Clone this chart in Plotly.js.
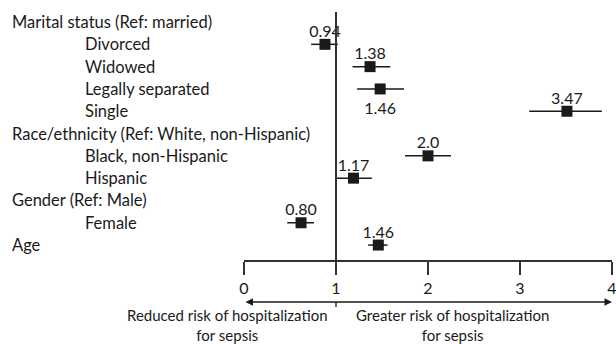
<!DOCTYPE html>
<html>
<head>
<meta charset="utf-8">
<script src="https://cdn.plot.ly/plotly-3.0.1.min.js"></script>
<style>
html,body{margin:0;padding:0;background:#fff;}
#chart{width:616px;height:344px;}
</style>
</head>
<body>
<div id="chart"></div>
<script>
// ---- data ----
const rowLabels = ['Marital status (Ref: married)','Divorced','Widowed','Legally separated','Single',
  'Race/ethnicity (Ref: White, non-Hispanic)','Black, non-Hispanic','Hispanic',
  'Gender (Ref: Male)','Female','Age'];
const rowIndent = [0,1,1,1,1,0,1,1,0,1,0];
const pointRows = ['Divorced','Widowed','Legally separated','Single','Black, non-Hispanic','Hispanic','Female','Age'];
const oddsRatio = [0.88,1.37,1.48,3.51,2.0,1.19,0.62,1.46];
const ciLow     = [0.73,1.18,1.23,3.10,1.75,1.01,0.47,1.35];
const ciHigh    = [1.02,1.59,1.74,3.89,2.25,1.39,0.76,1.56];
const orLabels  = ['0.94','1.38','1.46','3.47','2.0','1.17','0.80','1.46'];
const labelBelow = ['Legally separated'];
const xTicks = [0,1,2,3,4];
const leftNote = 'Reduced risk of hospitalization<br>for sepsis';
const rightNote = 'Greater risk of hospitalization<br>for sepsis';

// ---- layout constants ----
const W = 616, H = 344, ML = 244, MR = 4, MT = 12, MB = 84;
const PW = W - ML - MR, PH = H - MT - MB;
const FONT = 'Lato, "Open Sans", sans-serif';
const INK = '#1a1a1a';
const pxToPaperX = px => (px - ML) / PW;
const pxToPaperY = py => (H - MB - py) / PH;

const yIdx = pointRows.map(r => rowLabels.indexOf(r));
const isBelow = pointRows.map(r => labelBelow.includes(r));

const pointTrace = {
  type: 'scatter',
  mode: 'markers',
  x: oddsRatio,
  y: yIdx,
  marker: {symbol: 'square', size: 11, color: INK},
  error_x: {
    type: 'data', symmetric: false,
    array: ciHigh.map((h, i) => h - oddsRatio[i]),
    arrayminus: ciLow.map((l, i) => oddsRatio[i] - l),
    color: INK, thickness: 1.5, width: 0
  },
  hoverinfo: 'skip', showlegend: false, cliponaxis: false
};

function labelTrace(below) {
  const idx = oddsRatio.map((_, i) => i).filter(i => isBelow[i] === below);
  return {
    type: 'scatter',
    mode: 'markers+text',
    x: idx.map(i => oddsRatio[i]),
    y: idx.map(i => yIdx[i]),
    text: idx.map(i => orLabels[i]),
    textposition: below ? 'bottom center' : 'top center',
    textfont: {family: FONT, size: 16, color: INK},
    marker: {size: below ? 20 : 4, opacity: 0, color: INK},
    hoverinfo: 'skip', showlegend: false, cliponaxis: false
  };
}

const annotations = rowLabels.map((lab, i) => ({
  xref: 'paper', yref: 'y',
  x: pxToPaperX(rowIndent[i] ? 83 : 10), y: i,
  xanchor: 'left', yanchor: 'middle',
  text: lab, showarrow: false,
  font: {family: FONT, size: 16.5, color: INK}
}));

// double-headed arrow below axis
annotations.push({
  xref: 'x', yref: 'paper', x: xTicks[xTicks.length - 1], y: pxToPaperY(302),
  axref: 'x', ayref: 'pixel', ax: xTicks[0], ay: 0,
  text: '', showarrow: true, arrowside: 'end+start',
  arrowhead: 2, arrowsize: 1, arrowwidth: 1.5, arrowcolor: INK
});
annotations.push({
  xref: 'paper', yref: 'paper', x: pxToPaperX(227.5), y: pxToPaperY(325),
  xanchor: 'center', yanchor: 'middle', align: 'center',
  text: leftNote, showarrow: false,
  font: {family: FONT, size: 15, color: INK}
});
annotations.push({
  xref: 'paper', yref: 'paper', x: pxToPaperX(452), y: pxToPaperY(325),
  xanchor: 'center', yanchor: 'middle', align: 'center',
  text: rightNote, showarrow: false,
  font: {family: FONT, size: 15, color: INK}
});

const layout = {
  width: W, height: H,
  margin: {l: ML, r: MR, t: MT, b: MB},
  paper_bgcolor: '#fff', plot_bgcolor: '#fff',
  font: {family: FONT, color: INK},
  xaxis: {
    range: [xTicks[0], xTicks[xTicks.length - 1]],
    tickvals: xTicks, ticktext: xTicks.map(String),
    showline: true, linecolor: '#333', linewidth: 1.5,
    ticks: 'outside', ticklen: 13, tickwidth: 1.5, tickcolor: '#333',
    ticklabeloverflow: 'allow',
    showgrid: false, zeroline: false, fixedrange: true,
    tickfont: {family: FONT, size: 16, color: INK}
  },
  yaxis: {
    range: [10.67, -0.45], visible: false, showgrid: false, zeroline: false, fixedrange: true
  },
  shapes: [
    {type: 'line', xref: 'x', yref: 'paper', x0: 1, x1: 1, y0: 0, y1: 1,
     line: {color: '#333', width: 2}},
    {type: 'line', xref: 'x', yref: 'paper', x0: 1, x1: 1, y0: pxToPaperY(302), y1: pxToPaperY(307),
     line: {color: '#333', width: 1.5}}
  ],
  annotations: annotations,
  showlegend: false
};

Plotly.newPlot('chart', [pointTrace, labelTrace(false), labelTrace(true)], layout,
  {displayModeBar: false, staticPlot: true});
</script>
</body>
</html>
